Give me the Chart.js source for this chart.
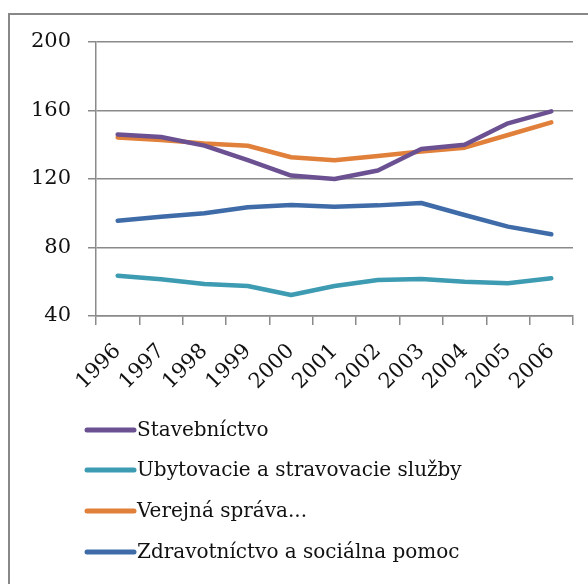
<!DOCTYPE html>
<html>
<head>
<meta charset="utf-8">
<script src="https://cdn.jsdelivr.net/npm/chart.js@4/dist/chart.umd.min.js"></script>
<style>
  html, body { margin: 0; padding: 0; background: #fff; overflow: hidden; }
  #wrap { position: relative; width: 588px; height: 584px; }
  #frame { position: absolute; left: 8px; top: 13px; width: 620px; height: 620px;
           border: 2px solid #888; box-sizing: border-box; pointer-events: none; }
  canvas { position: absolute; left: 0; top: 0; }
</style>
</head>
<body>
<div id="wrap">
  <canvas id="c" width="588" height="584"></canvas>
  <div id="frame"></div>
</div>
<script>
const years = ['1996','1997','1998','1999','2000','2001','2002','2003','2004','2005','2006'];
const stavebnictvo = [146, 144.5, 139.5, 131, 122, 120, 125, 137.5, 140, 152.5, 159.5];
const ubytovanie   = [63.5, 61.5, 58.7, 57.5, 52.3, 57.5, 61, 61.6, 60, 59.1, 62];
const verejnaSprava = [144.3, 142.8, 140.8, 139.4, 132.7, 131, 133.4, 136, 138.3, 145.7, 153.1];
const zdravotnictvo = [95.6, 98, 100, 103.5, 104.8, 103.8, 104.6, 106, 99, 92.2, 87.7];
const yTicks = [40, 80, 120, 160, 200];

const FONT = '"DejaVu Serif", serif';
const GRID = '#8a8a8a';

// Legend stacked one entry per row under the axis labels
const stackedLegend = {
  id: 'stackedLegend',
  afterDraw(chart) {
    const ctx = chart.ctx;
    const x0 = 87, x1 = 134, tx = 137;
    const rows = [430, 470, 511, 552];
    ctx.save();
    chart.data.datasets.forEach((ds, i) => {
      const y = rows[i];
      ctx.strokeStyle = ds.borderColor;
      ctx.lineWidth = 5;
      ctx.lineCap = 'round';
      ctx.beginPath();
      ctx.moveTo(x0, y);
      ctx.lineTo(x1, y);
      ctx.stroke();
      ctx.fillStyle = '#111';
      ctx.font = '20px ' + FONT;
      ctx.textBaseline = 'middle';
      ctx.textAlign = 'left';
      ctx.fillText(ds.label, tx, y + 1);
    });
    ctx.restore();
  }
};

new Chart(document.getElementById('c'), {
  type: 'line',
  data: {
    labels: years,
    datasets: [
      { label: 'Stavebníctvo', data: stavebnictvo, borderColor: '#6b5191' },
      { label: 'Ubytovacie a stravovacie služby', data: ubytovanie, borderColor: '#3d9bb2' },
      { label: 'Verejná správa...', data: verejnaSprava, borderColor: '#e0803a' },
      { label: 'Zdravotníctvo a sociálna pomoc', data: zdravotnictvo, borderColor: '#3f6ca8' }
    ].map(d => Object.assign(d, {
      borderWidth: 4.5, pointRadius: 0, tension: 0, fill: false,
      borderCapStyle: 'round', borderJoinStyle: 'round'
    }))
  },
  options: {
    responsive: false,
    animation: false,
    layout: { padding: { left: 0, right: 15, top: 42, bottom: 184 } },
    plugins: { legend: { display: false }, tooltip: { enabled: false } },
    scales: {
      x: {
        offset: true,
        grid: { display: true, drawOnChartArea: false, drawTicks: true, tickLength: 9,
                offset: true, color: GRID, lineWidth: 1.5 },
        border: { display: true, color: GRID, width: 1.5 },
        ticks: { color: '#111', font: { family: FONT, size: 21 },
                 minRotation: 45, maxRotation: 45, autoSkip: false, padding: 14 },
        afterFit(s) { s.height = 84; }
      },
      y: {
        min: 40, max: 200,
        afterBuildTicks(s) { s.ticks = yTicks.map(v => ({ value: v })); },
        grid: { color: GRID, lineWidth: 1.5, tickLength: 8, drawTicks: true },
        border: { display: true, color: GRID, width: 1.5 },
        ticks: { color: '#111', font: { family: FONT, size: 21 }, padding: 17 },
        afterFit(s) { s.width = 96; }
      }
    }
  },
  plugins: [stackedLegend]
});
</script>
</body>
</html>
